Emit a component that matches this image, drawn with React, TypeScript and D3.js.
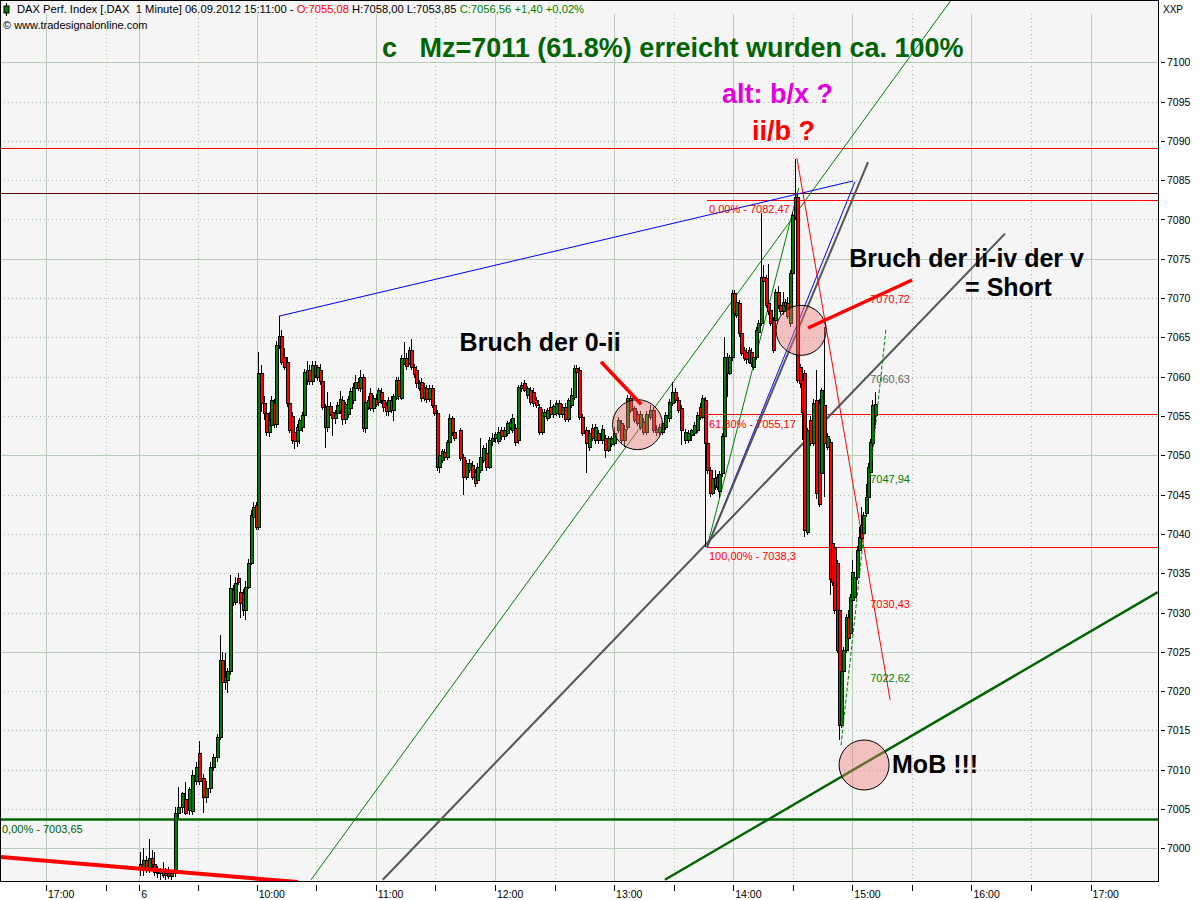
import React from "react";
import * as d3 from "d3";

type Bar = [number, number, number, number]; // open, high, low, close
type Pt = [number, number]; // minutes after 09:00, price

// ---------------- candle data (DAX 1 minute, 06.09.2012) ----------------
const candlesOpening: Bar[] = [
  [6998.0, 6999.5, 6996.5, 6997.5], [6997.5, 7000.0, 6996.5, 6998.5], [6998.5, 6999.0, 6996.8, 6997.2],
  [6997.2, 7001.2, 6996.8, 6998.8], [6998.8, 6999.8, 6997.5, 6998.0], [6998.0, 6999.5, 6996.5, 6997.0],
  [6997.0, 6997.8, 6996.2, 6996.8], [6996.8, 6997.5, 6996.0, 6997.2], [6997.2, 6998.2, 6996.2, 6996.6],
  [6996.6, 6997.5, 6996.0, 6996.9], [6996.9, 6997.6, 6996.1, 6996.5], [6996.5, 6997.3, 6996.0, 6996.8],
];
const candlesRallyEarly: Bar[] = [
  [6996.8, 7005.2, 6996.4, 7004.5], [7004.5, 7007.8, 7003.8, 7005.2], [7005.2, 7007.2, 7004.5, 7007.0],
  [7006.3, 7008.4, 7004.2, 7004.5], [7004.9, 7007.8, 7004.2, 7007.5], [7004.7, 7010.0, 7004.3, 7009.3],
  [7008.5, 7011.0, 7008.0, 7010.4], [7012.1, 7013.6, 7008.0, 7008.5], [7009.0, 7009.5, 7004.5, 7006.5],
  [7006.5, 7008.5, 7005.8, 7007.7], [7007.7, 7011.0, 7007.0, 7010.3], [7010.3, 7012.0, 7009.8, 7011.6],
  [7011.6, 7014.5, 7011.0, 7014.2],
];
const candlesRallyLate: Bar[] = [
  [7014.2, 7027.2, 7013.8, 7024.0], [7024.0, 7025.0, 7020.5, 7021.2], [7021.2, 7024.9, 7020.2, 7021.8],
  [7021.4, 7023.0, 7019.8, 7022.5], [7022.5, 7034.8, 7022.0, 7033.1], [7032.9, 7033.5, 7030.8, 7031.3],
  [7031.3, 7034.5, 7031.0, 7033.8], [7034.4, 7035.0, 7033.5, 7033.9], [7032.6, 7034.2, 7029.3, 7031.2],
  [7032.5, 7033.0, 7029.6, 7030.3], [7030.3, 7034.0, 7029.0, 7033.3], [7033.3, 7036.8, 7033.0, 7036.3],
  [7036.3, 7043.0, 7036.0, 7042.4], [7042.2, 7044.0, 7041.8, 7043.4], [7043.7, 7044.0, 7040.5, 7040.9],
  [7040.9, 7063.1, 7040.5, 7060.5],
];
const candlesMorning: Bar[] = [
  [7060.5, 7061.5, 7055.5, 7056.7], [7056.7, 7057.5, 7054.5, 7055.4], [7055.4, 7056.0, 7052.4, 7053.0],
  [7053.0, 7055.5, 7052.3, 7054.5], [7053.9, 7057.5, 7053.0, 7057.0], [7056.7, 7057.2, 7053.5, 7054.0],
  [7054.0, 7064.5, 7053.5, 7064.0], [7064.0, 7067.7, 7063.5, 7065.2], [7065.2, 7066.0, 7061.5, 7061.9],
  [7062.5, 7063.6, 7060.8, 7061.2], [7061.9, 7062.5, 7056.2, 7056.7], [7056.7, 7057.0, 7052.8, 7053.2],
  [7055.0, 7055.5, 7051.5, 7052.0], [7053.0, 7053.5, 7050.8, 7051.8], [7051.8, 7054.0, 7051.0, 7053.6],
  [7053.2, 7054.8, 7051.5, 7054.5], [7053.6, 7055.5, 7053.0, 7055.1], [7055.1, 7061.0, 7054.5, 7060.6],
  [7059.6, 7062.0, 7059.0, 7060.9], [7060.9, 7061.5, 7059.0, 7059.4], [7059.4, 7062.0, 7059.0, 7061.5],
  [7061.5, 7062.0, 7059.8, 7060.2], [7060.0, 7061.5, 7059.5, 7061.2], [7060.9, 7061.6, 7059.0, 7059.4],
  [7059.4, 7059.8, 7055.8, 7056.1], [7056.1, 7056.5, 7050.9, 7053.6], [7053.6, 7058.0, 7053.0, 7056.3],
  [7056.3, 7056.8, 7055.0, 7055.3], [7055.5, 7056.0, 7052.5, 7054.8], [7054.8, 7055.8, 7054.0, 7055.4],
  [7055.4, 7056.8, 7054.8, 7056.4], [7055.8, 7058.2, 7055.3, 7057.2], [7057.0, 7057.5, 7053.8, 7054.6],
  [7054.6, 7056.8, 7054.0, 7056.5], [7055.2, 7057.6, 7054.8, 7057.2], [7056.0, 7058.5, 7055.6, 7058.2],
  [7057.0, 7059.2, 7056.5, 7058.7], [7058.5, 7060.2, 7058.0, 7059.3], [7059.3, 7059.8, 7058.2, 7058.6],
  [7058.5, 7060.9, 7058.0, 7060.0], [7060.0, 7060.4, 7053.0, 7053.5], [7053.5, 7057.2, 7052.8, 7056.8],
  [7056.2, 7057.5, 7055.8, 7057.0], [7057.9, 7058.5, 7055.6, 7056.0], [7056.0, 7057.7, 7055.5, 7057.3],
  [7057.2, 7057.8, 7056.2, 7056.5], [7056.8, 7058.6, 7056.3, 7058.3], [7058.0, 7058.5, 7056.5, 7057.0],
  [7057.0, 7057.3, 7055.5, 7056.2], [7056.4, 7056.8, 7055.0, 7055.6], [7055.6, 7057.4, 7055.0, 7057.0],
  [7057.0, 7057.5, 7055.4, 7055.8], [7055.8, 7057.8, 7054.4, 7057.6], [7057.3, 7060.0, 7057.0, 7059.6],
  [7059.6, 7060.0, 7057.0, 7057.5], [7057.3, 7062.8, 7057.0, 7062.4], [7061.8, 7064.4, 7061.5, 7062.4],
  [7062.4, 7063.0, 7060.8, 7061.4], [7061.8, 7063.8, 7061.5, 7063.4], [7063.4, 7064.8, 7060.8, 7061.2],
  [7061.2, 7061.6, 7059.8, 7060.3], [7060.8, 7061.3, 7058.5, 7059.2], [7059.2, 7059.6, 7058.2, 7058.6],
  [7059.3, 7059.8, 7056.8, 7057.3], [7057.3, 7059.2, 7056.9, 7058.7], [7058.6, 7059.0, 7056.6, 7057.2],
  [7057.2, 7059.0, 7056.8, 7058.6], [7058.5, 7059.0, 7056.0, 7056.4], [7056.4, 7056.8, 7055.0, 7055.4],
  [7055.4, 7055.8, 7048.0, 7048.5], [7048.5, 7050.5, 7047.8, 7050.1], [7049.4, 7050.8, 7049.0, 7050.5],
  [7050.4, 7050.8, 7049.5, 7049.8], [7049.8, 7052.0, 7049.4, 7051.7], [7051.7, 7055.2, 7051.2, 7054.8],
  [7054.8, 7055.0, 7052.5, 7053.0], [7053.0, 7053.4, 7051.8, 7052.2],
];
const candlesMiddayA: Bar[] = [
  [7053.2, 7053.5, 7049.3, 7049.7], [7049.8, 7050.2, 7045.0, 7047.3], [7047.3, 7049.4, 7046.8, 7049.0],
  [7048.1, 7049.5, 7047.8, 7049.0], [7048.8, 7049.3, 7046.8, 7047.3], [7047.9, 7048.3, 7046.0, 7046.5],
  [7046.9, 7049.0, 7046.4, 7048.5], [7048.1, 7052.2, 7047.8, 7049.8], [7049.4, 7051.3, 7049.0, 7050.9],
  [7050.3, 7051.6, 7048.0, 7048.5], [7048.5, 7052.3, 7048.2, 7052.0], [7051.8, 7052.8, 7051.2, 7052.2],
  [7052.2, 7053.0, 7051.6, 7052.7], [7051.8, 7053.6, 7051.4, 7053.0], [7053.2, 7053.6, 7052.0, 7052.4],
  [7052.4, 7053.6, 7052.0, 7053.2], [7052.8, 7054.4, 7052.4, 7054.1], [7053.6, 7054.6, 7053.2, 7054.3],
  [7053.2, 7055.2, 7052.8, 7054.8], [7053.5, 7054.0, 7051.2, 7051.7], [7051.9, 7059.0, 7051.5, 7058.7],
  [7058.5, 7059.3, 7058.0, 7059.0], [7059.2, 7059.6, 7058.0, 7058.3], [7057.7, 7058.8, 7057.2, 7058.5],
  [7058.3, 7058.7, 7056.4, 7056.8], [7058.0, 7058.5, 7056.2, 7056.6], [7057.0, 7057.4, 7056.0, 7056.4],
  [7056.1, 7056.5, 7052.6, 7053.0], [7053.0, 7055.9, 7052.6, 7055.5], [7055.0, 7055.9, 7054.6, 7055.5],
  [7054.8, 7056.0, 7054.4, 7055.8], [7056.2, 7057.0, 7054.8, 7055.2], [7055.2, 7056.5, 7054.8, 7056.3],
  [7055.4, 7057.0, 7055.0, 7056.7], [7056.6, 7057.0, 7054.8, 7055.3], [7055.2, 7056.5, 7054.8, 7056.2],
  [7056.2, 7056.6, 7054.3, 7054.6], [7054.6, 7057.3, 7054.2, 7057.0], [7056.4, 7058.5, 7056.0, 7057.7],
  [7057.4, 7061.5, 7057.0, 7061.1],
];
const candlesMiddayB: Bar[] = [
  [7061.1, 7061.5, 7060.2, 7060.6], [7060.9, 7061.2, 7054.5, 7054.9], [7054.9, 7055.3, 7052.4, 7052.8],
  [7053.2, 7053.6, 7047.8, 7051.6], [7051.0, 7053.2, 7050.6, 7052.8], [7053.5, 7054.0, 7051.8, 7052.2],
  [7051.9, 7054.0, 7051.5, 7053.6], [7052.8, 7053.2, 7051.5, 7051.9], [7051.9, 7053.8, 7051.5, 7053.4],
  [7052.2, 7052.6, 7049.7, 7050.7], [7050.7, 7052.5, 7050.4, 7052.2], [7051.4, 7052.5, 7051.0, 7052.2],
  [7051.6, 7053.6, 7051.2, 7052.9], [7053.2, 7054.9, 7052.8, 7054.5], [7054.1, 7054.5, 7051.5, 7051.9],
  [7051.9, 7053.8, 7051.0, 7053.4], [7053.6, 7057.7, 7053.2, 7057.3], [7057.3, 7057.6, 7055.4, 7055.8],
  [7056.0, 7056.3, 7054.1, 7054.5], [7055.2, 7055.6, 7053.7, 7054.1], [7053.6, 7055.6, 7053.2, 7055.2],
  [7054.3, 7054.7, 7052.6, 7053.0], [7053.0, 7055.6, 7052.6, 7055.2], [7054.9, 7056.4, 7054.5, 7055.8],
  [7055.8, 7056.2, 7052.8, 7053.2], [7053.0, 7053.8, 7052.4, 7053.4], [7053.0, 7054.0, 7052.6, 7053.6],
  [7053.0, 7054.4, 7052.6, 7054.1], [7053.6, 7055.5, 7053.2, 7055.1], [7054.7, 7057.2, 7054.3, 7056.8],
  [7056.7, 7059.3, 7056.3, 7058.1], [7058.1, 7058.5, 7056.6, 7057.0], [7057.0, 7057.4, 7055.4, 7055.8],
  [7056.0, 7056.4, 7051.3, 7053.2], [7051.9, 7053.4, 7051.5, 7053.0], [7052.0, 7053.2, 7051.6, 7052.8],
  [7052.6, 7053.4, 7051.8, 7053.2], [7052.8, 7054.2, 7052.4, 7053.9], [7053.2, 7055.5, 7052.8, 7055.1],
];
const candlesTop: Bar[] = [
  [7056.2, 7056.6, 7054.5, 7054.9], [7054.9, 7057.7, 7054.6, 7057.3], [7057.0, 7057.4, 7038.3, 7051.6],
  [7051.6, 7052.0, 7047.6, 7048.1], [7048.1, 7048.5, 7044.7, 7045.2], [7045.2, 7047.5, 7044.9, 7047.1],
  [7047.1, 7048.1, 7045.6, 7046.2], [7046.0, 7047.6, 7045.6, 7047.2], [7045.5, 7048.0, 7044.6, 7047.6],
  [7047.7, 7052.8, 7047.3, 7052.4], [7052.4, 7065.0, 7052.0, 7062.5], [7062.5, 7063.0, 7057.4, 7060.5],
  [7060.5, 7062.8, 7060.2, 7062.5], [7062.5, 7071.0, 7062.0, 7070.7], [7070.7, 7071.0, 7067.8, 7068.1],
  [7067.9, 7069.8, 7067.5, 7069.5], [7069.4, 7069.8, 7065.1, 7065.5], [7065.5, 7065.9, 7062.6, 7063.0],
  [7063.4, 7063.8, 7062.0, 7062.4], [7063.2, 7063.6, 7061.6, 7062.2], [7063.4, 7063.8, 7061.6, 7061.9],
  [7063.2, 7063.6, 7061.2, 7061.8], [7061.2, 7062.8, 7060.8, 7062.5], [7062.5, 7066.3, 7062.1, 7066.0],
  [7065.7, 7067.2, 7065.3, 7066.8], [7066.8, 7080.8, 7066.4, 7072.7], [7072.7, 7074.2, 7071.8, 7072.2],
  [7072.5, 7072.9, 7068.7, 7069.1], [7069.4, 7074.4, 7067.9, 7068.3], [7068.5, 7068.9, 7066.4, 7066.8],
  [7067.2, 7067.6, 7063.0, 7063.4], [7067.2, 7071.2, 7066.8, 7070.8], [7070.8, 7071.5, 7068.6, 7069.1],
  [7069.1, 7069.5, 7067.9, 7068.3], [7068.3, 7070.8, 7067.9, 7069.5], [7069.0, 7069.9, 7068.6, 7069.5],
  [7069.4, 7070.2, 7067.3, 7067.7], [7066.8, 7073.6, 7066.3, 7073.2], [7073.2, 7080.9, 7072.8, 7080.6],
  [7080.3, 7087.7, 7080.0, 7082.8], [7082.8, 7083.2, 7059.2, 7059.6], [7061.2, 7061.6, 7058.6, 7059.2],
  [7059.6, 7060.0, 7052.0, 7055.5], [7060.5, 7060.9, 7039.6, 7040.5],
];
const candlesBreak: Bar[] = [
  [7040.2, 7053.5, 7039.8, 7053.2], [7054.5, 7055.0, 7051.2, 7051.6], [7051.6, 7057.2, 7051.2, 7056.6],
  [7057.0, 7060.9, 7044.5, 7045.2], [7056.7, 7057.2, 7043.4, 7043.8], [7047.7, 7058.6, 7047.3, 7058.3],
  [7056.4, 7066.3, 7044.7, 7051.6], [7051.1, 7052.8, 7050.7, 7052.4],
];
const candlesSelloff: Bar[] = [
  [7051.7, 7052.1, 7032.2, 7034.2], [7038.8, 7039.2, 7033.4, 7033.9], [7038.3, 7038.7, 7029.8, 7030.3],
  [7036.3, 7036.7, 7024.8, 7025.2], [7030.3, 7030.7, 7013.8, 7015.7], [7015.7, 7022.9, 7015.3, 7022.5],
  [7022.5, 7025.6, 7022.0, 7025.2], [7025.2, 7029.8, 7024.8, 7029.4], [7029.4, 7030.3, 7026.3, 7026.7],
  [7027.4, 7032.4, 7027.0, 7032.0], [7031.6, 7036.7, 7031.2, 7035.2], [7032.0, 7034.9, 7031.6, 7034.5],
  [7034.5, 7038.4, 7034.1, 7038.0], [7038.0, 7040.9, 7037.6, 7039.6], [7041.1, 7043.4, 7039.1, 7039.5],
  [7040.1, 7042.8, 7039.7, 7042.4], [7042.6, 7046.3, 7042.2, 7044.7], [7044.7, 7049.0, 7044.3, 7048.5],
  [7047.9, 7052.1, 7047.5, 7051.7], [7051.6, 7057.0, 7051.2, 7056.4], [7055.08, 7058.0, 7053.85, 7056.56],
];
// first / last bar time of each block, minutes after 09:00
const blockMinutes: Pt[] = [
  [0.6, 16.2], [18.0, 39.5], [41.0, 60.9], [62.2, 159.6], [162.4, 219.6],
  [220.8, 282.0], [283.3, 335.9], [337.4, 347.2], [348.7, 371.2],
];

// ---------------- axes ----------------
const hourTickMinutes = [-47, 0, 60, 120, 180, 240, 300, 360, 420, 480];
const hourTickLabels = ["17:00", "6", "10:00", "11:00", "12:00", "13:00", "14:00", "15:00", "16:00", "17:00"];
const halfHourTickMinutes = [-17, 30, 90, 150, 210, 270, 330, 390, 450];
const priceTicks = [7000, 7005, 7010, 7015, 7020, 7025, 7030, 7035, 7040, 7045, 7050,
  7055, 7060, 7065, 7070, 7075, 7080, 7085, 7090, 7095, 7100];
const majorPriceLines = [7000, 7025, 7050, 7075, 7100];

// ---------------- drawings ----------------
const levelRed = 7089.0;
const levelDark = 7083.3;
const levelGreen = 7003.65;
const levelGreenLabel = "0,00% - 7003,65";
const fibStartMinute = 286.8;
const fibLevels = [7082.47, 7055.17, 7038.3];
const fibLabels = ["0,00% - 7082,47", "61,80% - 7055,17", "100,00% - 7038,3"];

const trendBlueLong: Pt[] = [[71.2, 7067.7], [360.3, 7084.9]];
const trendBlueSteep: Pt[] = [[286.8, 7038.3], [361.3, 7084.8]];
const trendGreySteep: Pt[] = [[286.8, 7038.3], [367.9, 7087.3]];
const trendGreyLong: Pt[] = [[123.5, 6996.0], [436.9, 7078.2]];
const trendGreenThin: Pt[] = [[87.4, 6996.0], [409.7, 7107.9]];
const trendGreenSteep: Pt[] = [[286.8, 7038.3], [333.0, 7084.0]];
const trendGreenDashed: Pt[] = [[354.3, 7013.1], [377.0, 7066.2]];
const trendGreenThick: Pt[] = [[265.6, 6996.0], [513.9, 7032.6]];
const trendRedThick: Pt[] = [[-70.2, 6998.9], [80.8, 6995.7]];
const trendRedThin: Pt[] = [[332.1, 7087.8], [379.0, 7018.9]];
const arrowZeroTwo: Pt[] = [[233.4, 7061.9], [253.6, 7056.5]];
const arrowTwoFour: Pt[] = [[390.1, 7072.3], [337.7, 7066.2]];
const markCircles: Pt[] = [[251.8, 7053.9], [334.2, 7065.9], [365.9, 7010.6]];

const lineValueLabels = ["7070,72", "7060,63", "7047,94", "7030,43", "7022,62"];
const lineValuePrices = [7069.4, 7059.2, 7046.5, 7030.6, 7021.2];
const lineValueMinute = 369.0;

const notesText = ["Bruch der 0-ii", "Bruch der ii-iv der v", "= Short", "MoB !!!"];
const notesAt: Pt[] = [[162.2, 7063.3], [358.4, 7074.0], [416.8, 7070.3], [380.0, 7009.6]];
const waveText = ["alt: b/x ?", "ii/b ?"];
const waveAt: Pt[] = [[294.4, 7094.8], [309.5, 7090.1]];
const titleText = "c   Mz=7011 (61.8%) erreicht wurden ca. 100%";
const titleAt: Pt[] = [[123.1, 7100.7]];

const headerName = "DAX Perf. Index [.DAX  1 Minute] 06.09.2012 15:11:00 - ";
const headerOpen = "O:7055,08";
const headerHighLow = " H:7058,00 L:7053,85 ";
const headerClose = "C:7056,56 +1,40 +0,02%";
const headerSource = "© www.tradesignalonline.com";

// ---------------- layout ----------------
const W = 1200;
const H = 900;
const PR = 1158; // plot right
const PB = 881; // plot bottom

const x = d3.scaleLinear().domain([-47, 0, 60, 480]).range([46, 139.3, 256.7, 1090.6]);
const y = d3.scaleLinear().domain([7100, 7000]).range([62.3, 848.3]);

const GREEN = "#008000";
const RED = "#ff0000";
const GRID = "#b8cdb8";
const FONT = "'Liberation Sans', Arial, sans-serif";

type Candle = { t: number; o: number; h: number; l: number; c: number };

const blocks = [candlesOpening, candlesRallyEarly, candlesRallyLate, candlesMorning, candlesMiddayA,
  candlesMiddayB, candlesTop, candlesBreak, candlesSelloff];

const candles: Candle[] = blocks.flatMap((bars, bi) => {
  const [t0, t1] = blockMinutes[bi];
  const step = bars.length > 1 ? (t1 - t0) / (bars.length - 1) : 0;
  return bars.map(([o, h, l, c], k) => ({ t: t0 + k * step, o, h, l, c }));
});

function seg(p: Pt[], stroke: string, width: number, extra: any = {}) {
  return (
    <line x1={x(p[0][0])} y1={y(p[0][1])} x2={x(p[1][0])} y2={y(p[1][1])}
      stroke={stroke} strokeWidth={width} {...extra} />
  );
}

export default function App() {
  const boldNote = { fontFamily: FONT, fontWeight: 700, fontSize: 25 } as const;
  return (
    <svg width={W} height={H} style={{ position: "absolute", left: 0, top: 0, background: "#fff" }}>
      <defs>
        <clipPath id="plot">
          <rect x={1} y={1} width={PR - 1} height={PB - 1} />
        </clipPath>
      </defs>
      <rect x={0} y={0} width={W} height={H} fill="#ffffff" />
      <rect x={0} y={0} width={PR} height={PB} fill="#f5f5f5" />

      {/* grid */}
      <g clipPath="url(#plot)" shapeRendering="crispEdges">
        {priceTicks.filter((v) => !majorPriceLines.includes(v)).map((v) => (
          <line key={"hd" + v} x1={0} x2={PR} y1={Math.round(y(v)) + 0.5} y2={Math.round(y(v)) + 0.5}
            stroke="#a9bba9" strokeDasharray="1,3" />
        ))}
        {majorPriceLines.map((v) => (
          <line key={"hm" + v} x1={0} x2={PR} y1={Math.round(y(v)) + 0.5} y2={Math.round(y(v)) + 0.5} stroke={GRID} />
        ))}
        {halfHourTickMinutes.map((m) => (
          <line key={"vd" + m} x1={Math.round(x(m)) + 0.5} x2={Math.round(x(m)) + 0.5} y1={14} y2={PB}
            stroke="#a9bba9" strokeDasharray="1,3" />
        ))}
        {hourTickMinutes.map((m) => (
          <line key={"vm" + m} x1={Math.round(x(m)) + 0.5} x2={Math.round(x(m)) + 0.5} y1={14} y2={PB} stroke={GRID} />
        ))}
      </g>

      <g clipPath="url(#plot)">
        {/* horizontal levels */}
        <line x1={0} x2={PR} y1={y(levelRed)} y2={y(levelRed)} stroke={RED} strokeWidth={1} shapeRendering="crispEdges" />
        <line x1={0} x2={PR} y1={y(levelDark)} y2={y(levelDark)} stroke="#600000" strokeWidth={1} shapeRendering="crispEdges" />
        {fibLevels.map((v) => (
          <line key={"fib" + v} x1={x(fibStartMinute)} x2={PR} y1={y(v)} y2={y(v)} stroke={RED} strokeWidth={1} shapeRendering="crispEdges" />
        ))}
        <line x1={0} x2={PR} y1={y(levelGreen)} y2={y(levelGreen)} stroke="#006400" strokeWidth={2.5} />

        {/* trend lines */}
        {seg(trendGreenThin, GREEN, 1)}
        {seg(trendGreyLong, "#555555", 2)}
        {seg(trendBlueLong, "#0000ff", 1)}
        {seg(trendGreenSteep, GREEN, 1)}
        {seg(trendBlueSteep, "#0000ff", 1)}
        {seg(trendGreySteep, "#555555", 2)}
        {seg(trendGreenThick, "#006400", 2.5)}
        {seg(trendRedThin, RED, 1)}

        {/* candles */}
        <g shapeRendering="crispEdges">
          {candles.map((d, i) => {
            const cx = Math.round(x(d.t));
            const top = Math.round(y(Math.max(d.o, d.c)));
            const bot = Math.round(y(Math.min(d.o, d.c)));
            return (
              <g key={i}>
                <line x1={cx + 0.5} x2={cx + 0.5} y1={y(d.h)} y2={y(d.l)} stroke="#000" strokeWidth={1} />
                <rect x={cx - 1} y={top + 0.5} width={3} height={Math.max(1, bot - top)}
                  fill={d.c >= d.o ? GREEN : RED} stroke="#000" strokeWidth={1} />
              </g>
            );
          })}
        </g>

        {seg(trendGreenDashed, GREEN, 1, { strokeDasharray: "4,2" })}
        {seg(trendRedThick, RED, 4)}

        {/* circles */}
        {markCircles.map(([m, v], i) => (
          <circle key={"c" + i} cx={x(m)} cy={y(v)} r={25} fill="rgb(240,120,120)" fillOpacity={0.42}
            stroke="#000" strokeWidth={1} />
        ))}
        {seg(arrowZeroTwo, RED, 3.5)}
        {seg(arrowTwoFour, RED, 3.5)}

        {/* labels */}
        {fibLabels.map((t, i) => (
          <text key={"fl" + i} x={x(fibStartMinute) + 2} y={y(fibLevels[i]) + 13} fill={RED}
            fontFamily={FONT} fontSize={11}>{t}</text>
        ))}
        <text x={2} y={y(levelGreen) + 13} fill="#006400" fontFamily={FONT} fontSize={11}>{levelGreenLabel}</text>
        {lineValueLabels.map((t, i) => (
          <text key={"lv" + i} x={x(lineValueMinute)} y={y(lineValuePrices[i])}
            fill={i === 1 ? "#666666" : i === 2 || i === 4 ? GREEN : RED}
            fontFamily={FONT} fontSize={11}>{t}</text>
        ))}

        {notesText.map((t, i) => (
          <text key={"n" + i} x={x(notesAt[i][0])} y={y(notesAt[i][1])} fill="#000" style={boldNote}>{t}</text>
        ))}
        <text x={x(waveAt[0][0])} y={y(waveAt[0][1])} fill="#e000e0" style={{ ...boldNote, fontSize: 27 }}>{waveText[0]}</text>
        <text x={x(waveAt[1][0])} y={y(waveAt[1][1])} fill={RED} style={{ ...boldNote, fontSize: 27 }}>{waveText[1]}</text>
        <text x={x(titleAt[0][0])} y={y(titleAt[0][1])} fill="#006400" style={{ ...boldNote, fontSize: 27, whiteSpace: "pre" }}>{titleText}</text>
      </g>

      {/* header */}
      <g fontFamily={FONT} fontSize={11.2}>
        <line x1={6.5} x2={6.5} y1={3} y2={16} stroke="#000" />
        <rect x={4} y={6} width={5} height={7} fill={GREEN} stroke="#000" />
        <text x={17} y={13} style={{ whiteSpace: "pre" }}>
          <tspan fill="#000">{headerName}</tspan>
          <tspan fill={RED}>{headerOpen}</tspan>
          <tspan fill="#000">{headerHighLow}</tspan>
          <tspan fill={GREEN}>{headerClose}</tspan>
        </text>
        <text x={3} y={29} fill="#000" fontSize={11}>{headerSource}</text>
        <text x={1163} y={13} fill="#000" fontSize={10}>XXP</text>
      </g>

      {/* frame */}
      <rect x={0.5} y={0.5} width={PR} height={PB} fill="none" stroke="#000" shapeRendering="crispEdges" />

      {/* price axis */}
      <g fontFamily={FONT} fontSize={10.5} shapeRendering="crispEdges">
        {priceTicks.map((v) => (
          <g key={"pt" + v}>
            <line x1={PR + 3} x2={PR + 7} y1={Math.round(y(v)) + 0.5} y2={Math.round(y(v)) + 0.5} stroke="#000" />
            <text x={PR + 9} y={y(v) + 4} fill="#000">{v}</text>
          </g>
        ))}
      </g>

      {/* time axis */}
      <g fontFamily={FONT} fontSize={10.5} shapeRendering="crispEdges">
        {hourTickMinutes.map((m, i) => (
          <g key={"tt" + m}>
            <line x1={Math.round(x(m)) + 0.5} x2={Math.round(x(m)) + 0.5} y1={PB + 4} y2={PB + 10} stroke="#000" />
            <text x={x(m) + 2} y={PB + 17} fill="#000">{hourTickLabels[i]}</text>
          </g>
        ))}
        {halfHourTickMinutes.map((m) => (
          <line key={"th" + m} x1={Math.round(x(m)) + 0.5} x2={Math.round(x(m)) + 0.5} y1={PB + 4} y2={PB + 10} stroke="#000" />
        ))}
      </g>
    </svg>
  );
}
